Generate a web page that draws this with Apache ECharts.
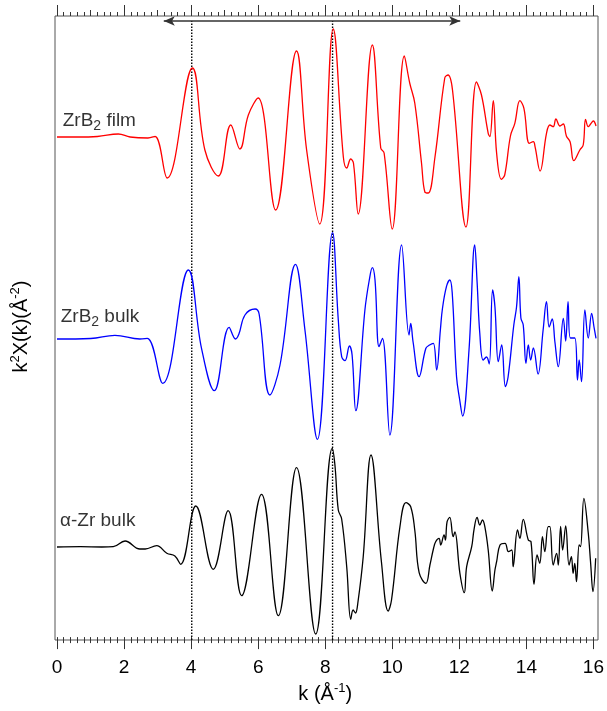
<!DOCTYPE html>
<html><head><meta charset="utf-8">
<script src="https://cdn.jsdelivr.net/npm/echarts@6/dist/echarts.min.js"></script>
<style>html,body{margin:0;padding:0;background:#fff}#c{width:607px;height:711px}</style>
</head><body><div id="c"></div>
<script>
// ---- data (k in 1/Angstrom, values in arbitrary units relative to each trace's baseline) ----
const filmK = [0,0.6,1.2,1.82,2.17,2.7,2.91,3.27,4.02,4.39,4.79,5.16,5.43,5.68,5.97,6.49,7.11,7.41,7.80,8.20,8.50,8.60,8.72,8.80,8.94,9.36,9.61,9.71,9.95,10.31,10.47,10.62,10.82,10.92,11.02,11.22,11.51,11.61,11.74,12.14,12.45,12.60,12.80,12.85,12.95,13.05,13.19,13.29,13.46,13.59,13.74,13.86,14.02,14.14,14.19,14.34,14.53,14.63,14.73,14.81,14.93,15.03,15.12,15.23,15.34,15.52,15.62,15.69,15.77,15.84,15.92,16.0];
const filmY = [0,0,0.05,0.3,0,-0.1,0.05,-4.1,6.9,-1.3,-3.9,1.2,-1.2,2.2,3.9,-7.3,8.6,-1.3,-8.7,10.8,-2.0,-3.1,-2.2,-2.6,-7.7,9.2,-1.1,-1.6,-9.2,8.1,5.4,3.4,-2.6,-5.5,-5.6,-2.0,5.9,6.2,4.7,-9.0,5.5,4.2,0.37,0.03,3.63,-1.63,-4.23,-3.8,0.1,1.37,3.63,2.87,-0.63,-0.47,-0.97,-3.4,0.37,1.2,1.03,1.8,1.1,1.3,0.1,-0.47,-2.37,-1.3,-0.8,1.77,1.03,1.3,1.6,1.1];

const bulkK = [0,1.0,1.72,2.46,2.68,3.14,3.90,4.29,4.67,5.11,5.30,5.40,5.58,5.88,6.00,6.32,6.62,7.08,7.36,7.73,8.18,8.35,8.45,8.55,8.68,8.76,8.87,9.14,9.27,9.36,9.44,9.56,9.66,9.88,10.23,10.45,10.50,10.57,10.75,10.95,11.06,11.17,11.27,11.38,11.44,11.56,11.66,11.73,11.86,11.95,12.04,12.23,12.40,12.47,12.55,12.65,12.75,12.83,12.93,13.00,13.10,13.20,13.31,13.39,13.56,13.64,13.71,13.77,13.84,13.92,13.99,14.06,14.14,14.28,14.43,14.53,14.61,14.70,14.78,14.88,15.03,15.10,15.17,15.24,15.37,15.45,15.50,15.57,15.67,15.77,15.87,15.94,16.0];
const bulkY = [0,0.05,0.37,0,0.07,-4.43,6.9,-0.93,-5.17,1.17,0,0.5,2.4,3.0,2.5,-5.6,-2.6,7.47,0.9,-10.03,10.63,1.9,-1.77,-2.17,-0.7,-1.6,-7.17,2.9,5.9,7.13,5.9,-0.77,0.07,-9.6,9.4,0.4,1.57,-0.3,-3.77,-0.93,-0.6,-0.43,-3.1,0.9,3.0,5.23,5.9,4.7,-3.77,-6.0,-7.7,-1.1,9.4,5.7,0.57,-2.1,-1.8,-2.5,4.9,3.2,-2.27,-0.6,-4.77,-3.8,1.4,3.17,6.23,2.1,1.4,-2.43,-0.6,-2.1,-0.9,-3.5,0.9,3.73,1.2,2.0,-0.3,-2.77,2.07,-0.2,3.73,0.1,0.1,-4.1,-2.1,-4.27,2.9,0.1,2.57,1.2,0.07];

const zrK = [0,0.7,1.33,1.67,2.02,2.46,2.62,2.96,3.26,3.50,3.67,4.12,4.64,5.08,5.48,6.07,6.57,7.11,7.68,8.17,8.25,8.35,8.45,8.60,8.72,8.79,8.86,8.93,9.09,9.32,9.63,9.83,9.93,10.18,10.36,10.50,10.62,10.75,10.95,11.07,11.18,11.24,11.34,11.39,11.49,11.53,11.58,11.66,11.76,11.81,11.96,12.09,12.16,12.31,12.38,12.47,12.55,12.63,12.70,12.80,12.92,13.00,13.05,13.15,13.30,13.40,13.50,13.54,13.67,13.74,13.84,13.99,14.07,14.16,14.25,14.33,14.41,14.48,14.58,14.63,14.73,14.83,14.88,14.95,15.01,15.10,15.20,15.27,15.32,15.37,15.42,15.50,15.54,15.64,15.77,15.84,15.91,15.99];
const zrY = [0,0.03,0,0.03,0.6,-0.2,-0.2,0.13,-0.63,-0.9,-1.73,4.1,-2.23,3.63,-4.87,5.27,-6.87,7.93,-8.7,9.87,8.2,3.7,2.8,-1.97,-7.23,-6.3,-6.6,-5.6,-0.97,9.2,-1.47,-6.4,-5.3,2.03,4.43,4.03,1.7,-2.57,-3.63,-1.8,-0.1,0.53,0.87,0.2,1.2,0.7,2.53,2.97,1.03,1.5,-2.63,-4.57,-1.97,0.03,1.77,2.97,2.2,2.7,2.03,-0.3,-4.4,-2.3,-1.47,0.2,0.37,-0.47,-0.3,-1.97,1.7,0.87,2.77,0.7,0.53,-3.73,-0.8,-1.63,1.03,-0.47,2.03,2.03,-1.8,-0.63,-1.8,2.07,-0.3,2.1,-1.8,-0.97,-2.63,-1.63,-3.47,0.2,0.03,4.87,1.4,-1.6,-4.47,-1.13];

const traceNames = ['ZrB2 film', 'ZrB2 bulk', 'α-Zr bulk'];
const traceOffsets = [50.3, 30.1, 9.3];
const traceColors = ['#ff0000', '#0000ff', '#000000'];
const labelK = [0.17, 0.11, 0.09];
const labelY = [51.9, 32.3, 11.9];
const dottedK = [4.0, 8.18];
const arrowK = [3.17, 11.97];
const arrowY = 61.9;
const xTickStep = 2;

const yMax = 62.4;
const font = "'Liberation Sans', Arial, Helvetica, sans-serif";

const traces = [[filmK, filmY], [bulkK, bulkY], [zrK, zrY]];

const chart = echarts.init(document.getElementById('c'), null, {renderer: 'canvas'});

const series = [];
dottedK.forEach((k, i) => {
  series.push({
    type: 'line', xAxisIndex: 0, yAxisIndex: 0, silent: true,
    showSymbol: false, symbol: 'none',
    data: [[k, 0], [k, arrowY]],
    lineStyle: {color: '#000', width: 1.4, type: [1.4, 1.6]},
    markLine: i === 0 ? {
      silent: true, symbol: ['arrow', 'arrow'], symbolSize: [7, 11],
      label: {show: false},
      lineStyle: {color: '#333', width: 1.5, type: 'solid'},
      emphasis: {disabled: true},
      data: [[{coord: [arrowK[0], arrowY]}, {coord: [arrowK[1], arrowY]}]]
    } : undefined
  });
});

traces.forEach(([ks, ys], t) => {
  series.push({
    name: traceNames[t], type: 'line', xAxisIndex: 0, yAxisIndex: 0,
    showSymbol: false, symbol: 'none', smooth: 0.4, silent: true,
    data: ks.map((k, i) => [k, traceOffsets[t] + ys[i]]),
    lineStyle: {color: traceColors[t], width: 1.3}
  });
});

const labelRich = {
  b: {fontSize: 19, fontFamily: font, color: '#000', lineHeight: 24},
  s: {fontSize: 14, fontFamily: font, color: '#000', lineHeight: 14, verticalAlign: 'bottom'}
};
function richName(name) {
  if (name.indexOf('B2') >= 0) {
    const parts = name.split('B2');
    return '{b|' + parts[0] + 'B}{s|2}{b|' + parts[1] + '}';
  }
  return '{b|' + name + '}';
}
series.push({
  type: 'scatter', xAxisIndex: 0, yAxisIndex: 0, silent: true,
  symbolSize: 0,
  data: traceNames.map((n, i) => ({
    value: [labelK[i], labelY[i]],
    label: {show: true, position: 'right', distance: 0, formatter: richName(n), rich: labelRich}
  }))
});

const supRich = {
  sup: {fontSize: 13, fontFamily: font, color: '#000', lineHeight: 13, verticalAlign: 'top'}
};

chart.setOption({
  animation: false,
  backgroundColor: '#fff',
  grid: [
    {left: 55, right: 9, top: 16, bottom: 71, show: true, borderColor: '#555', borderWidth: 1, backgroundColor: 'transparent'},
    {left: 57, right: 11, top: 16, bottom: 71}
  ],
  xAxis: [
    {gridIndex: 0, type: 'value', min: -0.059, max: 16.059, show: false},
    {gridIndex: 1, type: 'value', position: 'bottom', min: 0, max: 16, interval: xTickStep,
      axisLine: {show: false},
      axisTick: {show: true, inside: false, length: 12, lineStyle: {color: '#333', width: 1}},
      minorTick: {show: true, splitNumber: 10, length: 6, lineStyle: {color: '#333', width: 1}},
      splitLine: {show: false}, minorSplitLine: {show: false},
      axisLabel: {show: true, fontSize: 19, fontFamily: font, color: '#000', margin: 21},
      name: 'k (Å{sup|-1})', nameLocation: 'middle', nameGap: 43,
      nameTextStyle: {fontSize: 20, fontFamily: font, color: '#000', lineHeight: 24, rich: supRich}
    },
    {gridIndex: 1, type: 'value', position: 'top', min: 0, max: 16, interval: xTickStep,
      axisLine: {show: false},
      axisTick: {show: true, inside: false, length: 11, lineStyle: {color: '#333', width: 1}},
      minorTick: {show: true, splitNumber: 10, length: 4, lineStyle: {color: '#333', width: 1}},
      splitLine: {show: false}, minorSplitLine: {show: false},
      axisLabel: {show: false}
    },
    {gridIndex: 1, type: 'value', position: 'top', min: 0, max: 16, interval: 1,
      axisLine: {show: false},
      axisTick: {show: true, inside: false, length: 6, lineStyle: {color: '#333', width: 1}},
      splitLine: {show: false}, axisLabel: {show: false}
    }
  ],
  yAxis: [
    {gridIndex: 0, type: 'value', min: 0, max: yMax, show: false},
    {gridIndex: 1, type: 'value', min: 0, max: 1,
      axisLine: {show: false}, axisTick: {show: false}, axisLabel: {show: false}, splitLine: {show: false},
      name: 'k{sup|2}X(k)(Å{sup|-2})', nameLocation: 'middle', nameGap: 24, nameRotate: 90,
      nameTextStyle: {fontSize: 20, fontFamily: font, color: '#000', lineHeight: 24, rich: supRich}
    }
  ],
  series: series
});
</script></body></html>
